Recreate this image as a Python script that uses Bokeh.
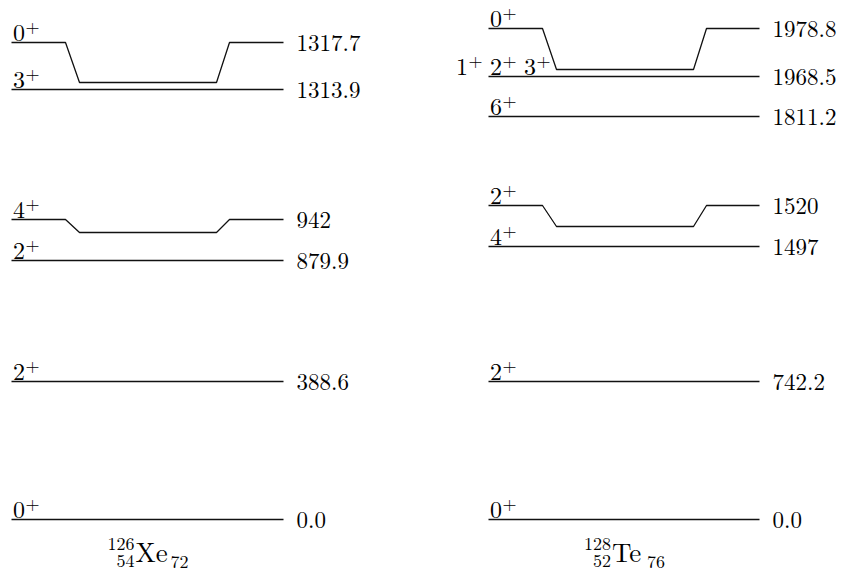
from bokeh.plotting import figure
from bokeh.models import ColumnDataSource, Range1d
from bokeh.embed import file_html
from bokeh.resources import INLINE
from bokeh.core.properties import value

# ---------------- data ----------------
xe_energies = ["1317.7", "1313.9", "942", "879.9", "388.6", "0.0"]
xe_spins = [["0+"], ["3+"], ["4+"], ["2+"], ["2+"], ["0+"]]
te_energies = ["1978.8", "1968.5", "1811.2", "1520", "1497", "742.2", "0.0"]
te_spins = [["0+"], ["1+", "2+", "3+"], ["6+"], ["2+"], ["4+"], ["2+"], ["0+"]]
xe_nuclide = ["126", "54", "Xe", "72"]   # A, Z, symbol, N
te_nuclide = ["128", "52", "Te", "76"]
# near-degenerate pairs drawn with a notch: (upper level index, lower level index)
xe_links = [(0, 1), (2, 3)]
te_links = [(0, 1), (3, 4)]

# ---------------- schematic layout (pixels from top) ----------------
xe_rows = [42, 89, 219, 260, 381, 519]
te_rows = [28, 76, 116, 205, 246, 381, 519]
xe_dips = [40, 13]
te_dips = [41, 21]
xe_span = (11, 283)
te_span = (488, 759)

FONT_NAME = "Latin Modern Roman"
W, H = 849, 573

p = figure(width=W, height=H, x_range=Range1d(0, W), y_range=Range1d(H, 0),
           output_backend="svg", toolbar_location=None, min_border=0)
p.axis.visible = False
p.grid.visible = False
p.outline_line_color = None
p.background_fill_color = "white"


def txt(x, y, t, size, align="left"):
    src = ColumnDataSource(dict(x=list(x), y=list(y), t=list(t)))
    p.text(x="x", y="y", text="t", source=src, text_font=value(FONT_NAME),
           text_font_size=size, text_baseline="middle", text_align=align,
           text_color="black")


def draw_scheme(energies, spins, nuclide, links, rows, dips, span):
    x0, x1 = span
    notched = {u: (rows[u] + d) for (u, l), d in zip(links, dips)}
    xs, ys = [], []
    for i, e in enumerate(energies):
        y = rows[i]
        if i in notched:
            yd = notched[i]
            xs.append([x0, x0 + 54, x0 + 68, x0 + 205, x0 + 218, x1])
            ys.append([y, y, yd, yd, y, y])
        else:
            xs.append([x0, x1])
            ys.append([y, y])
    p.multi_line(xs=xs, ys=ys, line_color="#111111", line_width=1.3)

    # energies
    txt([x1 + 13] * len(energies), rows, energies, "23px")

    # spins / parities
    dx, dy, dt = [], [], []
    px, py, pt = [], [], []
    step, w = 34, 27
    for i, group in enumerate(spins):
        n = len(group)
        c = x0 + 15
        start = c - (n * w + (n - 1) * (step - w)) / 2
        for k, s in enumerate(group):
            xx = start + k * step
            dx.append(xx); dy.append(rows[i] - 10); dt.append(s[:-1])
            px.append(xx + 12.5); py.append(rows[i] - 16); pt.append(s[-1])
    txt(dx, dy, dt, "24px")
    txt(px, py, pt, "18px")

    # nuclide label
    c = (x0 + x1) / 2
    A, Z, sym, N = nuclide
    txt([c - 13], [543], [A], "18px", "right")
    txt([c - 13], [560], [Z], "18px", "right")
    txt([c - 12], [550], [sym], "27px")
    txt([c + 23], [561], [N], "18px")


draw_scheme(xe_energies, xe_spins, xe_nuclide, xe_links, xe_rows, xe_dips, xe_span)
draw_scheme(te_energies, te_spins, te_nuclide, te_links, te_rows, te_dips, te_span)

open("out.html", "w").write(file_html(p, INLINE))
